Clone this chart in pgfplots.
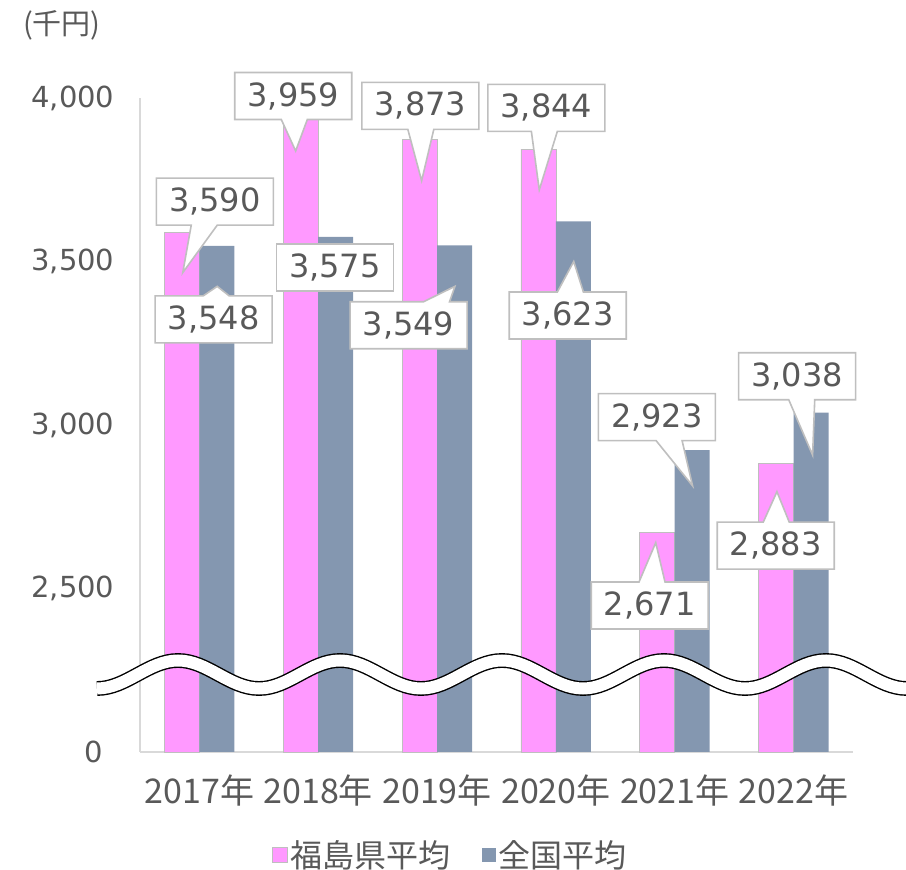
\documentclass[border=0pt]{standalone}
\usepackage{pgfplots}
\pgfplotsset{compat=1.18}
\usetikzlibrary{shapes.callouts}
\usepackage{fontspec}
\setmainfont{Noto Sans CJK JP}
\newfontfamily\numfont{DejaVu Sans}
\definecolor{fpink}{HTML}{FF99FF}
\definecolor{fblue}{HTML}{8497B0}
\definecolor{txt}{HTML}{595959}
\definecolor{axgray}{HTML}{D9D9D9}
\definecolor{bordergray}{HTML}{BFBFBF}
\tikzset{co/.style={rectangle callout, draw=bordergray, line width=1.6pt, fill=white, text=txt,
  font=\numfont\fontsize{32}{32}\selectfont, minimum width=117pt, minimum height=47pt, inner sep=0pt,
  callout pointer width=26pt},
  box/.style={rectangle, draw=bordergray, line width=1.6pt, fill=white, text=txt,
  font=\numfont\fontsize{32}{32}\selectfont, minimum width=117pt, minimum height=47pt, inner sep=0pt}}
\begin{document}
\begin{tikzpicture}
\useasboundingbox (-140pt,-118pt) rectangle (766pt,752pt);
\begin{axis}[
  at={(0pt,0pt)}, anchor=south west,
  scale only axis, width=713pt, height=654pt,
  ybar=0pt, bar width=35pt,
  xmin=-0.5, xmax=5.5, ymin=2000, ymax=4000,
  xtick={0,1,2,3,4,5},
  xticklabels={2017年,2018年,2019年,2020年,2021年,2022年},
  ytick={2000,2500,3000,3500,4000},
  yticklabels={{0\kern12pt},{2,500},{3,000},{3,500},{4,000}},
  axis x line*=bottom, axis y line*=left,
  axis line style={draw=axgray, line width=1.8pt, -},
  major tick length=0pt, tick style={draw=none},
  xticklabel style={font=\fontsize{34}{34}\selectfont, text=txt, yshift=-19pt},
  yticklabel style={font=\numfont\fontsize{29}{29}\selectfont, text=txt, xshift=-22pt},
  legend style={at={(0.435,-0.157)}, anchor=center, draw=none, fill=none, legend columns=2,
    font=\fontsize{32}{32}\selectfont, text=txt, nodes={inner sep=2pt},
    /tikz/every even column/.append style={column sep=30pt}},
  clip=false,
]
\addplot[fill=fpink, draw=bordergray, line width=0.8pt,
  legend image code/.code={\draw[fill=fpink, draw=bordergray, line width=0.8pt] (0pt,-7.5pt) rectangle (15pt,7.5pt);}]
  coordinates {(0,3590) (1,3959) (2,3873) (3,3844) (4,2671) (5,2883)};
\addplot[fill=fblue, draw=none,
  legend image code/.code={\fill[fblue] (0pt,-7pt) rectangle (14pt,7pt);}]
  coordinates {(0,3548) (1,3575) (2,3549) (3,3623) (4,2923) (5,3038)};
\legend{福島県平均,全国平均}

\node[co, callout absolute pointer={(axis cs:-0.14,3466)}] at (axis cs:0.13,3683) {3,590};
\node[co, callout absolute pointer={(axis cs:0.15,3424)}] at (axis cs:0.12,3323) {3,548};
\node[co, callout absolute pointer={(axis cs:0.81,3838)}] at (axis cs:0.79,4006) {3,959};
\node[box] at (axis cs:1.14,3482) {3,575};
\node[co, callout absolute pointer={(axis cs:1.87,3747)}] at (axis cs:1.86,3976) {3,873};
\node[co, callout absolute pointer={(axis cs:2.15,3424)}] at (axis cs:1.76,3305) {3,549};
\node[co, callout absolute pointer={(axis cs:2.86,3719)}] at (axis cs:2.92,3970) {3,844};
\node[co, callout absolute pointer={(axis cs:3.15,3500)}] at (axis cs:3.10,3335) {3,623};
\node[co, callout absolute pointer={(axis cs:4.15,2814)}] at (axis cs:3.85,3024) {2,923};
\node[co, callout absolute pointer={(axis cs:3.84,2640)}] at (axis cs:3.79,2448) {2,671};
\node[co, callout absolute pointer={(axis cs:5.16,2908)}] at (axis cs:5.03,3149) {3,038};
\node[co, callout absolute pointer={(axis cs:4.86,2796)}] at (axis cs:4.85,2631) {2,883};
\end{axis}
\def\wavepath{(-43pt,63.5pt) cos (-2.5pt,77.5pt) sin (38pt,91.5pt) cos (78.5pt,77.5pt) sin (119pt,63.5pt)
 cos (159.5pt,77.5pt) sin (200pt,91.5pt) cos (240.5pt,77.5pt) sin (281pt,63.5pt)
 cos (321.5pt,77.5pt) sin (362pt,91.5pt) cos (402.5pt,77.5pt) sin (443pt,63.5pt)
 cos (483.5pt,77.5pt) sin (524pt,91.5pt) cos (564.5pt,77.5pt) sin (605pt,63.5pt)
 cos (645.5pt,77.5pt) sin (686pt,91.5pt) cos (726.5pt,77.5pt) sin (767pt,63.5pt)}
\draw[black, line width=14.8pt] \wavepath;
\draw[white, line width=12pt] \wavepath;
\node[font=\fontsize{29}{29}\selectfont, text=txt] at (-78pt,727pt) {(千円)};
\end{tikzpicture}
\end{document}
